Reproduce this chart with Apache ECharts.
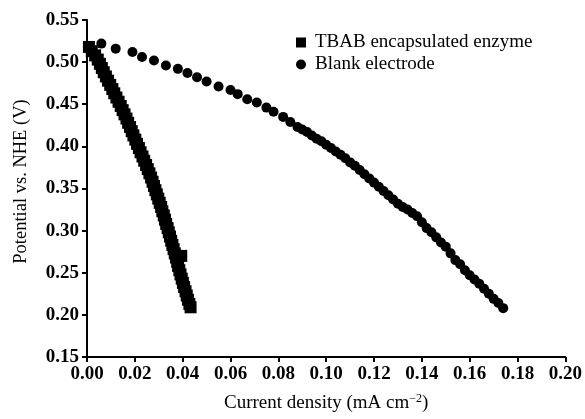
<!DOCTYPE html>
<html>
<head>
<meta charset="utf-8">
<script src="https://cdn.jsdelivr.net/npm/echarts@6/dist/echarts.min.js"></script>
<style>html,body{margin:0;padding:0;background:#fff;}#c{width:585px;height:419px;}</style>
</head>
<body>
<div id="c"></div>
<script>
const seriesNames = ['TBAB encapsulated enzyme', 'Blank electrode'];
const xTicks = ['0.00','0.02','0.04','0.06','0.08','0.10','0.12','0.14','0.16','0.18','0.20'];
const yTicks = ['0.15','0.20','0.25','0.30','0.35','0.40','0.45','0.50','0.55'];

// TBAB encapsulated enzyme: [current density, potential]
const tbab = [
[0.0008,0.518],[0.0020,0.513],[0.0034,0.508],[0.0045,0.503],[0.0054,0.498],[0.0062,0.493],
[0.0070,0.488],[0.0079,0.483],[0.0088,0.478],[0.0097,0.473],[0.0106,0.468],[0.0114,0.463],
[0.0123,0.458],[0.0132,0.453],[0.0141,0.448],[0.0149,0.443],[0.0157,0.438],[0.0165,0.433],
[0.0172,0.428],[0.0180,0.423],[0.0187,0.418],[0.0194,0.413],[0.0202,0.408],[0.0209,0.403],
[0.0217,0.398],[0.0224,0.393],[0.0232,0.388],[0.0239,0.383],[0.0247,0.378],[0.0254,0.373],
[0.0261,0.368],[0.0268,0.363],[0.0274,0.358],[0.0280,0.353],[0.0286,0.348],[0.0292,0.343],
[0.0298,0.338],[0.0304,0.333],[0.0310,0.328],[0.0315,0.323],[0.0321,0.318],[0.0326,0.313],
[0.0331,0.308],[0.0337,0.303],[0.0342,0.298],[0.0347,0.293],[0.0352,0.288],[0.0357,0.283],
[0.0362,0.278],[0.0367,0.273],[0.0372,0.268],[0.0377,0.263],[0.0381,0.258],[0.0386,0.253],
[0.0391,0.248],[0.0396,0.243],[0.0401,0.238],[0.0406,0.233],[0.0412,0.228],[0.0417,0.223],
[0.0422,0.218],[0.0428,0.213],[0.0433,0.209],[0.0394,0.270]
];

// Blank electrode: [current density, potential]
const blank = [
[0.006,0.522],[0.012,0.516],[0.019,0.512],[0.023,0.506],[0.028,0.502],[0.033,0.496],
[0.038,0.492],[0.042,0.487],[0.046,0.482],[0.050,0.477],[0.055,0.471],[0.060,0.467],
[0.063,0.462],[0.067,0.456],[0.071,0.452],[0.075,0.446],[0.078,0.441],[0.082,0.435],
[0.085,0.429],[0.088,0.423],[0.090,0.420],[0.092,0.417],[0.094,0.413],[0.096,0.409],
[0.098,0.406],[0.100,0.402],[0.102,0.398],[0.104,0.394],[0.106,0.390],[0.108,0.386],
[0.110,0.381],[0.112,0.377],[0.114,0.372],[0.116,0.367],[0.118,0.362],[0.120,0.357],
[0.122,0.352],[0.124,0.347],[0.126,0.342],[0.128,0.337],[0.130,0.332],[0.132,0.328],
[0.134,0.325],[0.136,0.321],[0.138,0.317],[0.140,0.310],[0.142,0.303],[0.144,0.298],
[0.146,0.292],[0.148,0.286],[0.150,0.281],[0.152,0.273],[0.154,0.265],[0.156,0.260],
[0.158,0.253],[0.160,0.247],[0.162,0.242],[0.164,0.237],[0.166,0.231],[0.168,0.225],
[0.170,0.219],[0.172,0.214],[0.174,0.208]
];

const font = 'Liberation Serif';
const chart = echarts.init(document.getElementById('c'), null, {renderer: 'canvas'});
chart.setOption({
  animation: false,
  backgroundColor: '#fff',
  grid: {left: 87, right: 18, top: 20, bottom: 62, containLabel: false},
  legend: {
    orient: 'vertical', left: 296, top: 33, padding: 0, itemWidth: 10, itemHeight: 10, itemGap: 3,
    data: [{name: seriesNames[0], icon: 'rect'}, {name: seriesNames[1], icon: 'circle'}],
    textStyle: {fontFamily: font, fontSize: 19, color: '#000', padding: [0,0,0,4]}
  },
  xAxis: {
    type: 'value', min: 0, max: 0.2, interval: 0.02,
    name: '{a|Current density (mA cm}{s|−2}{a|)}',
    nameLocation: 'middle', nameGap: 36,
    nameTextStyle: {rich: {
      a: {fontFamily: font, fontSize: 19, color: '#000'},
      s: {fontFamily: font, fontSize: 12, color: '#000', verticalAlign: 'top', padding: [0,0,8,0]}
    }},
    axisLine: {lineStyle: {color: '#000', width: 2}},
    axisTick: {length: 5, lineStyle: {color: '#000', width: 2}},
    splitLine: {show: false},
    axisLabel: {margin: 8, color: '#000', fontFamily: font, fontSize: 19, fontWeight: 'bold',
      formatter: (v) => xTicks[Math.round(v / 0.02)]}
  },
  yAxis: {
    type: 'value', min: 0.15, max: 0.55, interval: 0.05,
    name: 'Potential vs. NHE (V)', nameLocation: 'middle', nameGap: 56,
    nameTextStyle: {fontFamily: font, fontSize: 18.5, color: '#000', padding: [0,0,0,14]},
    axisLine: {show: true, lineStyle: {color: '#000', width: 2}},
    axisTick: {show: true, length: 5, lineStyle: {color: '#000', width: 2}},
    splitLine: {show: false},
    axisLabel: {margin: 8, color: '#000', fontFamily: font, fontSize: 19, fontWeight: 'bold',
      formatter: (v) => yTicks[Math.round((v - 0.15) / 0.05)]}
  },
  series: [
    {name: seriesNames[0], type: 'scatter', data: tbab, symbol: 'rect', symbolSize: 12,
     itemStyle: {color: '#000', opacity: 1}},
    {name: seriesNames[1], type: 'scatter', data: blank, symbol: 'circle', symbolSize: 10,
     itemStyle: {color: '#000', opacity: 1}}
  ]
});
</script>
</body>
</html>
